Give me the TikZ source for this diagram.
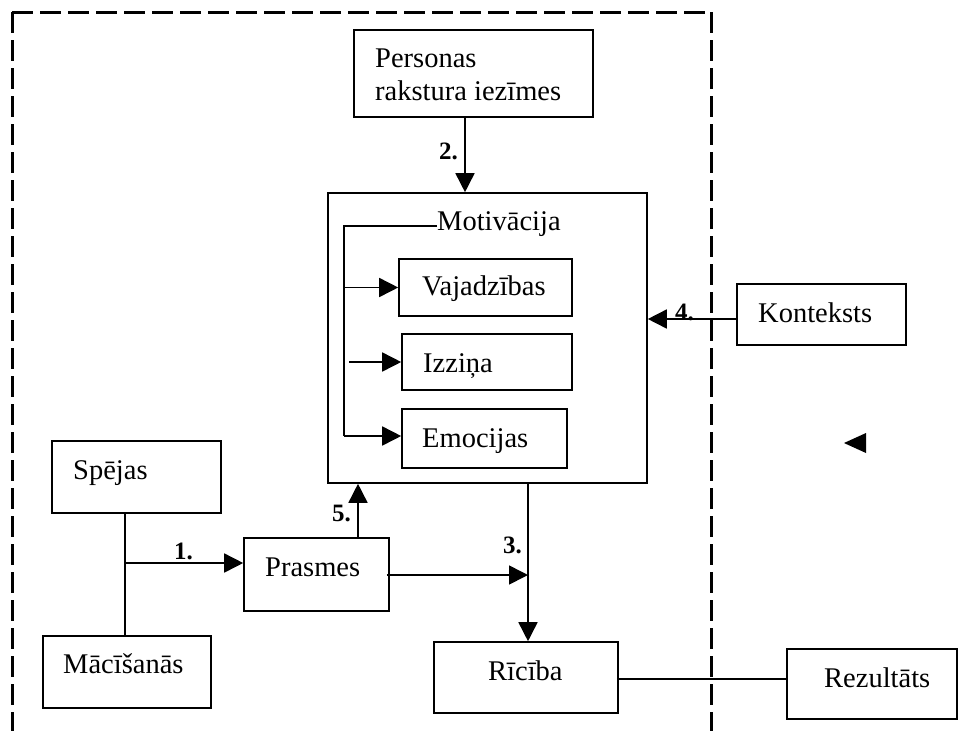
\documentclass[tikz,border=0pt]{standalone}
\usepackage{fontspec}
\setmainfont{Liberation Serif}
\usetikzlibrary{arrows.meta}
\begin{document}
\begin{tikzpicture}[x=1pt,y=-1pt,
  box/.style={draw, line width=1.6pt, inner sep=0pt},
  txt/.style={anchor=base west, inner sep=0pt, font=\fontsize{28.5}{33}\selectfont},
  num/.style={anchor=base west, inner sep=0pt, font=\fontsize{25}{30}\selectfont\bfseries},
  wire/.style={line width=1.6pt},
  arr/.style={wire, -{Triangle[length=19pt,width=19pt]}},
  frame/.style={line width=3pt, dash pattern=on 21pt off 7pt}]
\useasboundingbox (0,0) rectangle (960,731);

% dashed boundary, open at the bottom
\draw[frame] (12,12) -- (711,12);
\draw[frame] (12,12) -- (12,731);
\draw[frame] (711,12) -- (711,731);

% boxes
\node[box, minimum width=239pt, minimum height=87pt] (pers) at (473.5,73.5) {};
\node[box, minimum width=319pt, minimum height=290pt] (motiv) at (487.5,338) {};
\node[box, minimum width=173pt, minimum height=57pt] (vaj) at (485.5,287.5) {};
\node[box, minimum width=170pt, minimum height=56pt] (izz) at (487,362) {};
\node[box, minimum width=165pt, minimum height=59pt] (emo) at (484.5,438.5) {};
\node[box, minimum width=169pt, minimum height=61pt] (kont) at (821.5,314.5) {};
\node[box, minimum width=169pt, minimum height=72pt] (spejas) at (136.5,477) {};
\node[box, minimum width=168pt, minimum height=72pt] (maci) at (127,672) {};
\node[box, minimum width=145pt, minimum height=73pt] (prasmes) at (316.5,574.5) {};
\node[box, minimum width=184pt, minimum height=71pt] (ric) at (526,677.5) {};
\node[box, minimum width=170pt, minimum height=70pt] (rez) at (872,684) {};

% texts
\node[txt] (t-pers1) at (375,67) {Personas};
\node[txt] (t-pers2) at (375,100) {rakstura iezīmes};
\node[txt] (t-mot) at (437,230) {Motivācija};
\node[txt] (t-vaj) at (422,295) {Vajadzības};
\node[txt] (t-izz) at (423,372) {Izziņa};
\node[txt] (t-emo) at (422,447) {Emocijas};
\node[txt] (t-kont) at (758,322) {Konteksts};
\node[txt] (t-spejas) at (73,479) {Spējas};
\node[txt] (t-maci) at (63,673) {Mācīšanās};
\node[txt] (t-prasmes) at (265,576) {Prasmes};
\node[txt] (t-ric) at (488,680) {Rīcība};
\node[txt] (t-rez) at (824,687) {Rezultāts};

% numbered labels
\node[num] (n1) at (174,559) {1.};
\node[num] (n2) at (439,159) {2.};
\node[num] (n3) at (503,553) {3.};
\node[num] (n4) at (675,320) {4.};
\node[num] (n5) at (332,521) {5.};

% junction points
\coordinate (bus-top) at (344,226);
\coordinate (bus-bot) at (344,436);
\coordinate (j1) at (125,563);
\coordinate (j5) at (358,0);
\coordinate (j3) at (528,575);
\coordinate (k) at (0,319);
\coordinate (r) at (0,679);

% motivation bus
\draw[wire] (t-mot.west |- bus-top) -- (bus-top) -- (bus-bot);
\draw[arr] (bus-top |- vaj.west) -- (vaj.west);
\draw[arr] ([xshift=5pt]bus-top |- izz.west) -- (izz.west);
\draw[arr] (bus-bot) -- (bus-bot -| emo.west);

% connectors
\draw[arr] ([xshift=-8.5pt]pers.south) -- ([xshift=-8.5pt]pers.south |- motiv.north);
\draw[arr] (kont.west |- k) -- (motiv.east |- k);
\draw[wire] (j1 |- spejas.south) -- (j1 |- maci.north);
\draw[arr] (j1) -- (j1 -| prasmes.west);
\draw[arr] (j5 |- prasmes.north) -- (j5 |- motiv.south);
\draw[arr] ([xshift=-3pt]prasmes.east |- j3) -- (j3);
\draw[arr] (j3 |- motiv.south) -- (j3 |- ric.north);
\draw[wire] ([xshift=-2pt]ric.east |- r) -- (rez.west |- r);

% isolated arrowhead
\fill (844,443) -- (866,433) -- (866,453) -- cycle;
\end{tikzpicture}
\end{document}
